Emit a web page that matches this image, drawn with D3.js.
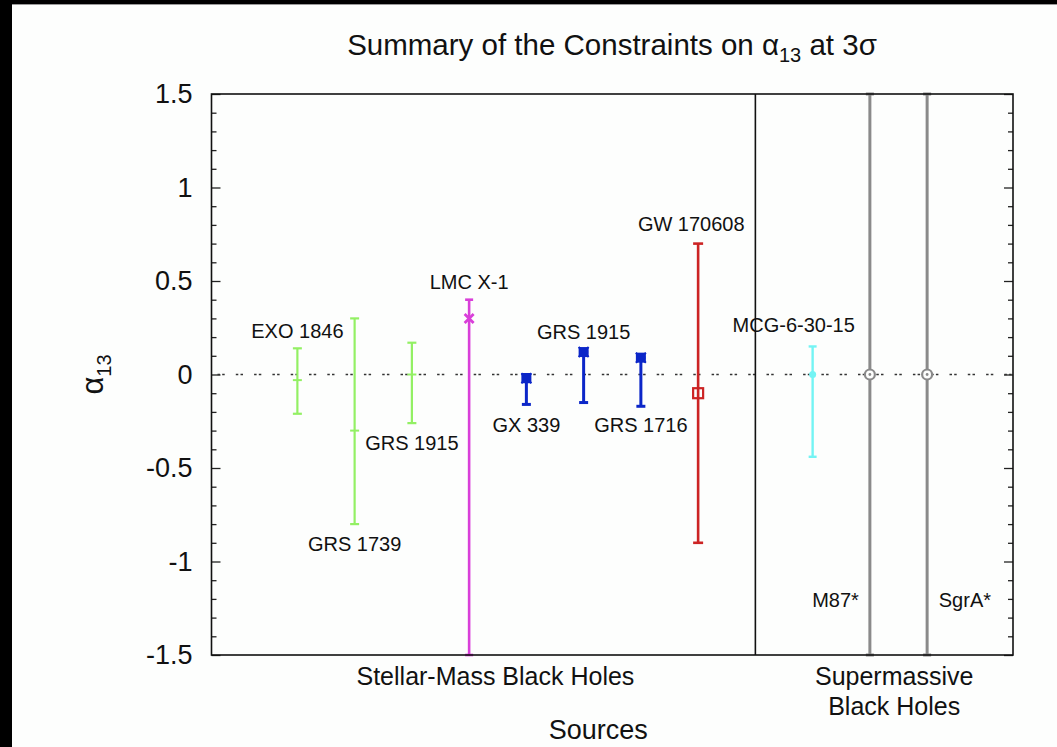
<!DOCTYPE html>
<html>
<head>
<meta charset="utf-8">
<script src="https://cdn.jsdelivr.net/npm/d3@7"></script>
<style>
  body { margin: 0; background: #000; }
  svg { display: block; }
  text { font-family: "Liberation Sans", Arial, Helvetica, sans-serif; fill: #111; }
</style>
</head>
<body>
<svg id="chart" width="1057" height="747"></svg>
<script>
// ---- data -------------------------------------------------------------
const sources   = ["EXO 1846", "GRS 1739", "GRS 1915", "LMC X-1", "GX 339", "GRS 1915",
                   "GRS 1716", "GW 170608", "MCG-6-30-15", "M87*", "SgrA*"];
const slot      = [2, 3, 4, 5, 6, 7, 8, 9, 11, 12, 13];
const central   = [-0.03, -0.30, 0.00, 0.30, -0.02, 0.12, 0.09, -0.10, 0.00, 0.00, 0.00];
const lower     = [-0.21, -0.80, -0.26, -1.50, -0.16, -0.15, -0.17, -0.90, -0.44, -1.50, -1.50];
const upper     = [ 0.14,  0.30,  0.17,  0.40,  0.00,  0.12,  0.09,  0.70,  0.15,  1.50,  1.50];
const family    = ["xray", "xray", "xray", "lmc", "blue", "blue", "blue", "gw", "agn", "eht", "eht"];
const separator = 10;                 // boundary between the two source classes
const majorTicks  = [-1.5, -1, -0.5, 0, 0.5, 1, 1.5];
const majorLabels = ["-1.5", "-1", "-0.5", "0", "0.5", "1", "1.5"];

// label anchors (slot, value) for each source name
const labelSlot  = [2, 3, 4, 5, 6, 7, 8, 8.88, 10.67, 11.4, 13.66];
const labelValue = [0.233, -0.905, -0.365, 0.495, -0.27, 0.229, -0.27, 0.805, 0.265, -1.205, -1.205];

// ---- styling per family -------------------------------------------------
const style = {
  xray: { color: "#93f064", width: 2.2, cap: 4.5, marker: "dash" },
  lmc:  { color: "#d93fd9", width: 2.6, cap: 4,   marker: "cross" },
  blue: { color: "#0b26c8", width: 3,   cap: 4.5, marker: "square" },
  gw:   { color: "#cc2424", width: 2.6, cap: 5,   marker: "open" },
  agn:  { color: "#74f4f4", width: 2.4, cap: 4,   marker: "dot" },
  eht:  { color: "#8a8a8a", width: 3,   cap: 4,   marker: "circle" }
};

// ---- layout -----------------------------------------------------------
const svg = d3.select("#chart");
const L = 211.5, R = 1013, T = 94, B = 655;

svg.append("rect").attr("x", 12).attr("y", 4).attr("width", 1045).attr("height", 743)
  .attr("fill", "#fdfefd");
svg.append("line").attr("x1", 12).attr("x2", 1057).attr("y1", 4.5).attr("y2", 4.5)
  .attr("stroke", "#9a9a9a").attr("stroke-width", 1);

const x = d3.scaleLinear().domain([0.5, 14.5]).range([L, R]);
const y = d3.scaleLinear().domain([-1.5, 1.5]).range([B, T]);

// minor ticks every 0.1
const minor = d3.range(-15, 16).map(d => d / 10).filter(v => !majorTicks.some(m => Math.abs(m - v) < 1e-9));

function styleAxis(g) {
  g.select(".domain").remove();
  g.selectAll(".tick line").attr("stroke", "#222").attr("stroke-width", 1.3);
}

svg.append("g").attr("transform", `translate(${L},0)`)
  .call(d3.axisLeft(y).tickValues(minor).tickSize(-5).tickFormat(""))
  .call(styleAxis);
svg.append("g").attr("transform", `translate(${L},0)`)
  .call(d3.axisLeft(y).tickValues(majorTicks).tickSize(-9).tickPadding(19)
        .tickFormat((d, i) => majorLabels[i]))
  .call(styleAxis)
  .call(g => g.selectAll(".tick text")
        .attr("font-size", 27).attr("fill", "#111")
        .attr("font-family", "Liberation Sans, Arial, sans-serif"));
svg.append("g").attr("transform", `translate(${R},0)`)
  .call(d3.axisRight(y).tickValues(minor).tickSize(-5).tickFormat(""))
  .call(styleAxis);
svg.append("g").attr("transform", `translate(${R},0)`)
  .call(d3.axisRight(y).tickValues(majorTicks).tickSize(-9).tickFormat(""))
  .call(styleAxis);

// zero reference line
svg.append("line")
  .attr("x1", L).attr("x2", R).attr("y1", y(0)).attr("y2", y(0))
  .attr("stroke", "#333").attr("stroke-width", 1.4)
  .attr("stroke-dasharray", "2.5,2.2,2.5,11.1").attr("stroke-dashoffset", -6);

// error bars
const plot = svg.append("g");
const pts = sources.map((s, i) => ({ name: s, slot: slot[i], c: central[i], lo: lower[i], hi: upper[i], st: style[family[i]] }));

const bars = plot.selectAll("g.bar").data(pts).join("g").attr("class", "bar");
bars.append("line")
  .attr("x1", d => x(d.slot)).attr("x2", d => x(d.slot))
  .attr("y1", d => y(d.lo)).attr("y2", d => y(d.hi))
  .attr("stroke", d => d.st.color).attr("stroke-width", d => d.st.width);
bars.selectAll("line.cap").data(d => [[d, d.lo], [d, d.hi]]).join("line").attr("class", "cap")
  .attr("x1", ([d]) => x(d.slot) - d.st.cap).attr("x2", ([d]) => x(d.slot) + d.st.cap)
  .attr("y1", ([, v]) => y(v)).attr("y2", ([, v]) => y(v))
  .attr("stroke", ([d]) => d.st.color).attr("stroke-width", ([d]) => d.st.width);

// central-value markers
bars.each(function (d) {
  const g = d3.select(this);
  const cx = x(d.slot), cy = y(d.c), col = d.st.color;
  switch (d.st.marker) {
    case "dash":
      g.append("line").attr("x1", cx - 4.5).attr("x2", cx + 4.5).attr("y1", cy).attr("y2", cy)
        .attr("stroke", col).attr("stroke-width", 2);
      break;
    case "cross":
      g.append("path").attr("d", `M${cx - 4.5},${cy - 4.5}L${cx + 4.5},${cy + 4.5}M${cx - 4.5},${cy + 4.5}L${cx + 4.5},${cy - 4.5}`)
        .attr("stroke", col).attr("stroke-width", 2.8);
      break;
    case "square":
      g.append("rect").attr("x", cx - 5).attr("y", cy - 5).attr("width", 10).attr("height", 10)
        .attr("fill", col);
      g.append("path").attr("d", `M${cx - 5},${cy - 5}L${cx + 5},${cy + 5}M${cx - 5},${cy + 5}L${cx + 5},${cy - 5}`)
        .attr("stroke", col).attr("stroke-width", 2);
      break;
    case "open":
      g.append("rect").attr("x", cx - 5).attr("y", cy - 5).attr("width", 10).attr("height", 10)
        .attr("fill", "none").attr("stroke", col).attr("stroke-width", 2.2);
      break;
    case "dot":
      g.append("circle").attr("cx", cx).attr("cy", cy).attr("r", 3.5).attr("fill", col);
      break;
    case "circle":
      g.append("circle").attr("cx", cx).attr("cy", cy).attr("r", 5).attr("fill", "#fdfefd")
        .attr("stroke", col).attr("stroke-width", 2.2);
      g.append("circle").attr("cx", cx).attr("cy", cy).attr("r", 1.4).attr("fill", col);
      break;
  }
});

// source names
svg.append("g").selectAll("text").data(sources).join("text")
  .attr("x", (d, i) => x(labelSlot[i])).attr("y", (d, i) => y(labelValue[i]))
  .attr("text-anchor", "middle").attr("dominant-baseline", "central")
  .attr("font-size", 20).text(d => d);

// frame and class separator
svg.append("rect").attr("x", L).attr("y", T).attr("width", R - L).attr("height", B - T)
  .attr("fill", "none").attr("stroke", "#111").attr("stroke-width", 1.6);
svg.append("line").attr("x1", x(separator)).attr("x2", x(separator)).attr("y1", T).attr("y2", B)
  .attr("stroke", "#111").attr("stroke-width", 1.6);

// class captions
const capG = svg.append("g").attr("text-anchor", "middle").attr("font-size", 25);
capG.append("text").attr("x", (L + x(separator)) / 2 + 12).attr("y", 676)
  .attr("dominant-baseline", "central").text("Stellar-Mass Black Holes");
capG.append("text").attr("x", (x(separator) + R) / 2 + 10).attr("y", 676)
  .attr("dominant-baseline", "central").text("Supermassive");
capG.append("text").attr("x", (x(separator) + R) / 2 + 10).attr("y", 706)
  .attr("dominant-baseline", "central").text("Black Holes");

// axis titles
svg.append("text").attr("x", (L + R) / 2 - 14).attr("y", 730).attr("text-anchor", "middle")
  .attr("dominant-baseline", "central").attr("font-size", 27).text("Sources");

const yl = svg.append("text").attr("transform", `translate(103,${y(0)}) rotate(-90)`)
  .attr("text-anchor", "middle").attr("font-size", 31);
yl.append("tspan").text("α");
yl.append("tspan").attr("font-size", 20).attr("dy", 8).text("13");

// chart title
const title = svg.append("text").attr("x", 612).attr("y", 55).attr("text-anchor", "middle")
  .attr("font-size", 29.5);
title.append("tspan").text("Summary of the Constraints on α");
title.append("tspan").attr("font-size", 20).attr("dy", 7).text("13");
title.append("tspan").attr("dy", -7).text(" at 3σ");
</script>
</body>
</html>
